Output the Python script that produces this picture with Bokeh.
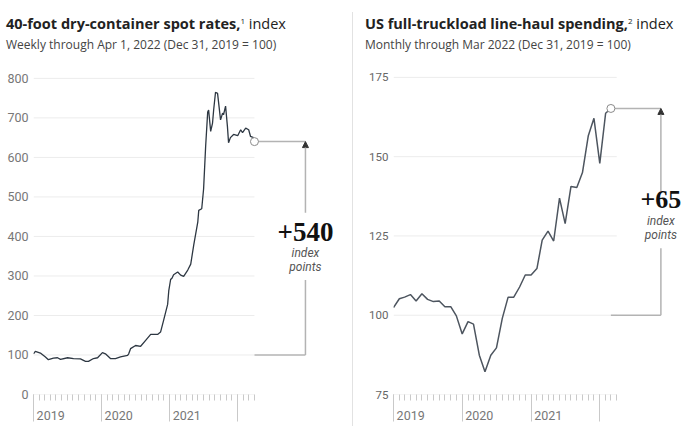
import numpy as np
import pandas as pd
from bokeh.plotting import figure
from bokeh.layouts import row, column
from bokeh.models import Range1d, FixedTicker, Div, Arrow, NormalHead, Label
from bokeh.embed import file_html
from bokeh.resources import INLINE

# ---------------- data ----------------
container_dates = [
    "2019-01-01", "2019-01-11", "2019-02-07", "2019-03-06", "2019-03-22", "2019-04-18",
    "2019-05-10", "2019-05-26", "2019-07-03", "2019-08-04", "2019-09-10", "2019-10-07",
    "2019-10-23", "2019-11-19", "2019-12-11", "2020-01-06", "2020-01-22", "2020-02-18",
    "2020-03-16", "2020-04-12", "2020-05-20", "2020-05-26", "2020-06-05", "2020-07-02",
    "2020-07-29", "2020-08-25", "2020-09-21", "2020-10-28", "2020-11-13", "2020-11-29",
    "2020-12-21", "2020-12-27", "2021-01-06", "2021-01-14", "2021-01-22", "2021-02-13",
    "2021-03-01", "2021-03-17", "2021-04-08", "2021-04-24", "2021-05-10", "2021-06-01",
    "2021-06-06", "2021-06-22", "2021-07-02", "2021-07-13", "2021-07-24", "2021-07-29",
    "2021-08-09", "2021-08-19", "2021-08-25", "2021-09-04", "2021-09-15", "2021-09-20",
    "2021-10-01", "2021-10-12", "2021-10-17", "2021-10-28", "2021-11-07", "2021-11-13",
    "2021-11-23", "2021-12-10", "2022-01-01", "2022-01-17", "2022-01-27", "2022-02-13",
    "2022-03-01", "2022-03-11", "2022-03-27", "2022-04-01",
]
container_index = [
    103, 109, 105, 95, 88, 92,
    93, 89, 93, 91, 90, 84,
    84, 91, 93, 106, 103, 91,
    91, 95, 99, 103, 116, 124,
    122, 137, 152, 152, 158, 187,
    228, 262, 291, 295, 303, 310,
    302, 299, 315, 330, 378, 437,
    466, 470, 520, 628, 715, 720,
    666, 687, 720, 765, 762, 741,
    695, 712, 708, 730, 678, 637,
    650, 658, 655, 670, 663, 674,
    670, 653, 650, 640,
]

truck_months = list(pd.date_range("2019-01-01", "2022-03-01", freq="MS").strftime("%Y-%m-%d"))
truck_index = [
    102.4, 105.2, 105.7, 106.5, 104.5, 106.8, 105.0, 104.3, 104.5, 102.7, 102.7, 99.8,
    94.1, 98.0, 97.2, 87.4, 82.2, 87.4, 89.7, 99.0, 105.7, 105.7, 108.9, 112.7,
    112.7, 114.7, 123.7, 126.5, 123.4, 136.9, 128.9, 140.6, 140.3, 145.0, 156.6, 162.1,
    147.9, 163.7, 165.2,
]

left_y_ticks = [0, 100, 200, 300, 400, 500, 600, 700, 800]
right_y_ticks = [75, 100, 125, 150, 175]
year_ticks = ["2019-01-01", "2020-01-01", "2021-01-01", "2022-01-01"]
year_labels = ["2019", "2020", "2021", ""]
month_ticks = list(pd.date_range("2019-01-01", "2022-04-01", freq="MS").strftime("%Y-%m-%d"))
grid_end = "2022-04-01"
base_value = 100
left_change = "+540"
right_change = "+65"


def ms(d):
    return pd.to_datetime(pd.Series(d)).values.astype("datetime64[ms]").astype("int64").tolist()


def ms1(d):
    return ms([d])[0]


DAY = 86400000.0
FONT = "Roboto"
GRID = "#ececec"
TICK = "#c9c9c9"
ANN = "#b3b3b3"


def style_axes(p, yticks, ylabel_size, ylabel_color):
    p.outline_line_color = None
    p.grid.visible = False
    ya = p.yaxis[0]
    ya.ticker = FixedTicker(ticks=yticks)
    ya.axis_line_color = None
    ya.major_tick_line_color = None
    ya.minor_tick_line_color = None
    ya.major_tick_out = 0
    ya.major_tick_in = 0
    ya.minor_tick_out = 0
    ya.major_label_standoff = 5
    ya.major_label_text_font = FONT
    ya.major_label_text_font_size = ylabel_size
    ya.major_label_text_color = ylabel_color
    xa = p.xaxis[0]
    yt = ms(year_ticks)
    xa.ticker = FixedTicker(ticks=yt, minor_ticks=ms(month_ticks))
    xa.major_label_overrides = {t: ("\u00a0" + lab if lab else "") for t, lab in zip(yt, year_labels)}
    xa.axis_line_color = None
    xa.major_tick_out = 27
    xa.major_tick_in = 0
    xa.minor_tick_out = 6
    xa.minor_tick_in = 0
    xa.major_tick_line_color = TICK
    xa.minor_tick_line_color = TICK
    xa.major_label_orientation = -0.0001
    xa.major_label_standoff = -6
    xa.major_label_text_font = FONT
    xa.major_label_text_font_size = "12.5px"
    xa.major_label_text_color = "#777777"


def gridlines(p, yticks):
    n = len(yticks)
    p.segment(x0=ms([month_ticks[0]] * n), x1=ms([grid_end] * n), y0=yticks, y1=yticks,
              line_color=GRID, line_width=1)


def annotate(p, last_x, last_y, ann_x, y_top_break, y_bot_break, y_big, y_idx, y_pts, text, big_size):
    p.segment(x0=[last_x, last_x], x1=[ann_x, ann_x], y0=[last_y, base_value], y1=[last_y, base_value],
              line_color=ANN, line_width=1.5)
    p.segment(x0=[ann_x], x1=[ann_x], y0=[base_value], y1=[y_bot_break], line_color=ANN, line_width=1.5)
    p.add_layout(Arrow(end=NormalHead(size=6, fill_color="#333333", line_color="#333333"),
                       x_start=ann_x, y_start=y_top_break, x_end=ann_x, y_end=last_y,
                       line_color=ANN, line_width=1.5))
    p.add_layout(Label(x=ann_x, y=y_big, text=text, text_align="center", text_baseline="middle",
                       text_font="Liberation Serif", text_font_style="bold",
                       text_font_size=big_size, text_color="#111111"))
    for yy, t in ((y_idx, "index"), (y_pts, "points")):
        p.add_layout(Label(x=ann_x, y=yy, text=t, text_align="center", text_baseline="middle",
                           text_font=FONT, text_font_style="italic",
                           text_font_size="12px", text_color="#555555"))
    p.scatter(x=[last_x], y=[last_y], size=8, fill_color="white", line_color="#8a8a8a", line_width=1)


FIG_H = 377
TOP = 12

# ---------------- left chart ----------------
x0 = ms1("2019-01-01")
px_per_year_l = 68.0
mspp_l = 365 * DAY / px_per_year_l
p1 = figure(width=349, height=FIG_H, x_axis_type="datetime",
            x_range=Range1d(x0, x0 + 317 * mspp_l), y_range=Range1d(0, 825),
            output_backend="svg", toolbar_location=None,
            min_border_left=30, min_border_right=2, min_border_top=TOP, min_border_bottom=28)
style_axes(p1, left_y_ticks, "12.5px", "#777777")
gridlines(p1, left_y_ticks)
p1.line(ms(container_dates), container_index, line_color="#2d3742", line_width=1.3)
lx = ms1(container_dates[-1])
annotate(p1, lx, container_index[-1], lx + 51 * mspp_l, 460, 290, 412, 357, 322, left_change, "27px")

# ---------------- right chart ----------------
px_per_year_r = 68.7
mspp_r = 365 * DAY / px_per_year_r
p2 = figure(width=339, height=FIG_H, x_axis_type="datetime",
            x_range=Range1d(x0, x0 + 297 * mspp_r), y_range=Range1d(75, 175 + 9 / 3.21),
            output_backend="svg", toolbar_location=None,
            min_border_left=40, min_border_right=2, min_border_top=TOP, min_border_bottom=28)
style_axes(p2, right_y_ticks, "11.5px", "#666666")
gridlines(p2, right_y_ticks)
p2.line(ms(truck_months), truck_index, line_color="#4d555f", line_width=1.5)
rx = ms1(truck_months[-1])
annotate(p2, rx, truck_index[-1], rx + 50 * mspp_r, 139.2, 121.1, 136.4, 129.7, 125.2, right_change, "26px")


# ---------------- titles ----------------
def title_div(bold, sup, rest, sub, width, pad_left):
    html = (
        f'<div style="font-family:\'Open Sans\', sans-serif; color:#222; margin:0; padding-top:9px; padding-left:{pad_left}px;">'
        f'<div style="font-size:14.5px; line-height:18px; white-space:nowrap;"><span style="font-weight:bold">{bold}</span>'
        f'<span style="font-size:8px; position:relative; top:-5px;">{sup}</span> {rest}</div>'
        f'<div style="font-size:12px; color:#444; line-height:16px; margin-top:2px; white-space:nowrap;">{sub}</div></div>'
    )
    return Div(text=html, width=width, height=50, margin=0)


t1 = title_div("40-foot dry-container spot rates,", "1", "index",
               "Weekly through Apr 1, 2022 (Dec 31, 2019 = 100)", 349, 3)
t2 = title_div("US full-truckload line-haul spending,", "2", "index",
               "Monthly through Mar 2022 (Dec 31, 2019 = 100)", 339, 12)
sep = Div(text="", width=1, height=414, margin=(6, 0, 0, 0), styles={"background-color": "#e2e2e2"})

layout = row(column(t1, p1, spacing=0), sep, column(t2, p2, spacing=0), spacing=0, margin=(6, 0, 0, 3))

open("out.html", "w").write(file_html(layout, INLINE))
